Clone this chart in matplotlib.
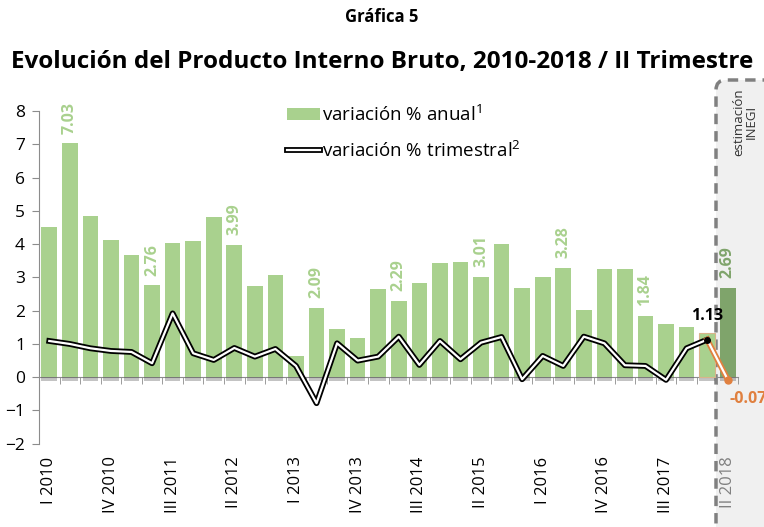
import matplotlib
matplotlib.use('Agg')
import matplotlib.pyplot as plt
from matplotlib.patches import FancyBboxPatch, Patch
from matplotlib.lines import Line2D
from matplotlib.transforms import IdentityTransform
import matplotlib.patheffects as pe

plt.rcParams['font.family'] = ['Open Sans', 'DejaVu Sans']
plt.rcParams['mathtext.fontset'] = 'custom'
plt.rcParams['mathtext.rm'] = 'Open Sans'

# data
quarters = ['I', 'II', 'III', 'IV']
years = list(range(2010, 2019))
periods = [q + ' ' + str(y) for y in years for q in quarters][:34]

anual = [4.52, 7.03, 4.84, 4.14, 3.68, 2.76, 4.04, 4.10, 4.81, 3.99,
         2.75, 3.08, 0.64, 2.09, 1.45, 1.19, 2.65, 2.29, 2.82, 3.42,
         3.48, 3.01, 4.01, 2.68, 3.01, 3.28, 2.02, 3.25, 3.25, 1.84,
         1.59, 1.52, 1.32, 2.69]
trimestral = [1.09, 1.00, 0.87, 0.79, 0.76, 0.42, 1.92, 0.72, 0.52, 0.88,
              0.62, 0.85, 0.34, -0.78, 1.02, 0.50, 0.62, 1.22, 0.37, 1.09,
              0.54, 1.04, 1.21, -0.06, 0.64, 0.34, 1.22, 1.02, 0.36, 0.34,
              -0.08, 0.87, 1.13, -0.07]
labelled = [1, 5, 9, 13, 17, 21, 25, 29, 33]

green = '#a9d18e'
dark_green = '#7fa46b'
orange = '#e0803f'
gray = '#8c8c8c'

fig = plt.figure(figsize=(7.64, 5.27), dpi=100)

# shaded box for the INEGI estimate
box = FancyBboxPatch((716, -30), 120, 477, boxstyle='round,pad=0,rounding_size=10',
                     transform=IdentityTransform(), facecolor='#f0f0f0',
                     edgecolor='#808080', lw=2.5, linestyle=(0, (3, 2)), zorder=-1)
fig.add_artist(box)
fig.text(745 / 764, 1 - 122 / 527, 'estimación\nINEGI', rotation=90, ha='center',
         va='center', fontsize=9.5, color='#333333', linespacing=1.0)

ax = fig.add_axes([39 / 764, 0.158, 699 / 764, 0.631])
ax.set_facecolor('none')

x = list(range(len(periods)))
colors = [green] * 33 + [dark_green]
bars = ax.bar(x, anual, width=0.76, color=colors, zorder=2)
for b in bars:
    b.set_path_effects([pe.SimplePatchShadow(offset=(0, -3), shadow_rgbFace='#555555', alpha=0.35),
                        pe.Normal()])
bars[32].set_edgecolor('#d9b48a')
bars[32].set_linewidth(0.8)

for i in labelled:
    c = dark_green if i == 33 else green
    ax.annotate(f'{anual[i]:.2f}', (x[i], anual[i]), xytext=(0, 7), textcoords='offset points',
                rotation=90, ha='center', va='bottom', fontsize=11.5, fontweight='bold', color=c)

# quarterly line: black double line, last segment orange
ax.plot(x[:33], trimestral[:33], color='black', lw=4.2, zorder=4, solid_joinstyle='round')
ax.plot(x[:33], trimestral[:33], color='white', lw=1.6, zorder=5, solid_joinstyle='round')
ax.plot(x[32:], trimestral[32:], color=orange, lw=4.2, zorder=4)
ax.plot(x[32:], trimestral[32:], color='white', lw=1.6, zorder=5)
ax.plot(x[32], trimestral[32], 'o', color='black', ms=4, zorder=6)
ax.plot(x[33], trimestral[33], 'o', color=orange, ms=5, zorder=6)
ax.annotate(f'{trimestral[32]:.2f}', (x[32], trimestral[32]), xytext=(0, 11),
            textcoords='offset points', ha='center', va='bottom', fontsize=11.5,
            fontweight='bold', color='black', zorder=7)
ax.annotate(f'{trimestral[33]:.2f}', (x[33], trimestral[33]), xytext=(1, -14),
            textcoords='offset points', ha='left', va='center', fontsize=11.5,
            fontweight='bold', color=orange, annotation_clip=False)

ax.set_xlim(-0.5, len(periods) - 0.5)
ax.set_ylim(-2, 8)
ax.set_yticks(range(-2, 9))
ax.tick_params(axis='y', labelsize=12.5, length=5, color=gray, pad=5)

ax.spines['top'].set_visible(False)
ax.spines['right'].set_visible(False)
ax.spines['left'].set_color(gray)
ax.spines['bottom'].set_position(('data', 0))
ax.spines['bottom'].set_color(gray)
ax.spines['bottom'].set_zorder(1)

ticks = x[::3]
ax.set_xticks(ticks)
ax.set_xticklabels([periods[i] for i in ticks], rotation=90, fontsize=12, va='top')
ax.set_xticks([i - 0.5 for i in x] + [33.5], minor=True)
ax.tick_params(axis='x', which='major', length=0, pad=57)
ax.tick_params(axis='x', which='minor', length=5, color=gray)
ax.get_xticklabels()[-1].set_color('#808080')

handles = [Patch(facecolor=green),
           (Line2D([], [], color='black', lw=4.2), Line2D([], [], color='white', lw=1.6))]
ax.legend(handles, ['variación % anual$^{1}$', 'variación % trimestral$^{2}$'],
          loc='upper left', bbox_to_anchor=(287 / 764, 1 - 104 / 527),
          bbox_transform=fig.transFigure, frameon=False, fontsize=13.5,
          handlelength=1.75, handleheight=0.65, handletextpad=0.1, labelspacing=0.8,
          borderpad=0, borderaxespad=0)

fig.text(0.5, 1 - 17 / 527, 'Gráfica 5', ha='center', va='center', fontsize=12,
         fontweight='bold')
fig.text(0.5, 1 - 62 / 527, 'Evolución del Producto Interno Bruto, 2010-2018 / II Trimestre',
         ha='center', va='center', fontsize=17.5, fontweight='bold')

plt.savefig('out.png', dpi=100)
